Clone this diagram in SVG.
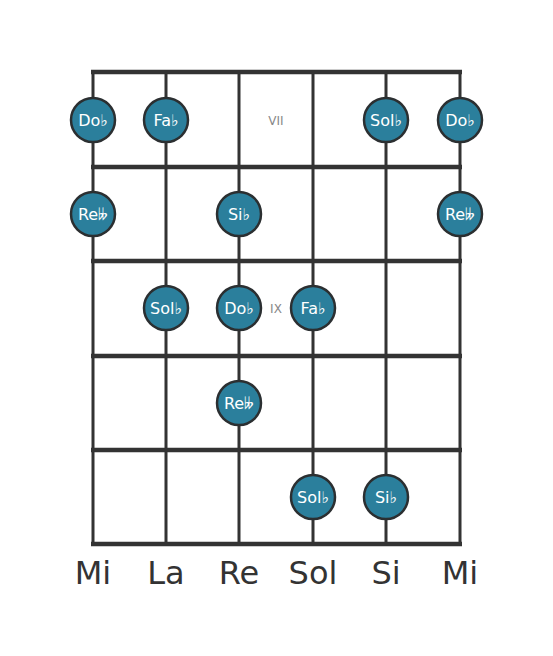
<svg xmlns="http://www.w3.org/2000/svg" width="553" height="656" viewBox="0 0 553 656">
<style>
.str{stroke:#333;stroke-width:3}
.fret{stroke:#333;stroke-width:4.5}
.dot circle{fill:#2b7f9c;stroke:#2b2f31;stroke-width:2.5}
.dot text{fill:#fff;font-family:"DejaVu Sans",sans-serif;font-size:16px;text-anchor:middle;dominant-baseline:central}
.fn{fill:#888;font-family:"DejaVu Sans",sans-serif;font-size:12px;text-anchor:middle;dominant-baseline:central}
.lbl{fill:#333;font-family:"DejaVu Sans",sans-serif;font-size:32px;text-anchor:middle}
</style>
<rect width="553" height="656" fill="#fff"/>
<g id="connectors">
<line class="str" x1="93" y1="72" x2="93" y2="544"/>
<line class="str" x1="166" y1="72" x2="166" y2="544"/>
<line class="str" x1="239" y1="72" x2="239" y2="544"/>
<line class="str" x1="313" y1="72" x2="313" y2="544"/>
<line class="str" x1="386" y1="72" x2="386" y2="544"/>
<line class="str" x1="460" y1="72" x2="460" y2="544"/>
<line class="fret" x1="91" y1="72" x2="462" y2="72"/>
<line class="fret" x1="91" y1="167" x2="462" y2="167"/>
<line class="fret" x1="91" y1="261" x2="462" y2="261"/>
<line class="fret" x1="91" y1="356" x2="462" y2="356"/>
<line class="fret" x1="91" y1="450" x2="462" y2="450"/>
<line class="fret" x1="91" y1="544" x2="462" y2="544"/>
</g>
<text class="fn" x="276" y="121">VII</text>
<text class="fn" x="276" y="309">IX</text>
<g id="n1" class="dot"><circle cx="93" cy="120" r="22"/><text x="93" y="120">Do♭</text></g>
<g id="n2" class="dot"><circle cx="166" cy="120" r="22"/><text x="166" y="120">Fa♭</text></g>
<g id="n3" class="dot"><circle cx="386" cy="120" r="22"/><text x="386" y="120">Sol♭</text></g>
<g id="n4" class="dot"><circle cx="460" cy="120" r="22"/><text x="460" y="120">Do♭</text></g>
<g id="n5" class="dot"><circle cx="93" cy="214" r="22"/><text x="93" y="214">Re𝄫</text></g>
<g id="n6" class="dot"><circle cx="239" cy="214" r="22"/><text x="239" y="214">Si♭</text></g>
<g id="n7" class="dot"><circle cx="460" cy="214" r="22"/><text x="460" y="214">Re𝄫</text></g>
<g id="n8" class="dot"><circle cx="166" cy="308" r="22"/><text x="166" y="308">Sol♭</text></g>
<g id="n9" class="dot"><circle cx="239" cy="308" r="22"/><text x="239" y="308">Do♭</text></g>
<g id="n10" class="dot"><circle cx="313" cy="308" r="22"/><text x="313" y="308">Fa♭</text></g>
<g id="n11" class="dot"><circle cx="239" cy="403" r="22"/><text x="239" y="403">Re𝄫</text></g>
<g id="n12" class="dot"><circle cx="313" cy="497" r="22"/><text x="313" y="497">Sol♭</text></g>
<g id="n13" class="dot"><circle cx="386" cy="497" r="22"/><text x="386" y="497">Si♭</text></g>
<g id="labels">
<text class="lbl" x="93" y="584">Mi</text>
<text class="lbl" x="166" y="584">La</text>
<text class="lbl" x="239" y="584">Re</text>
<text class="lbl" x="313" y="584">Sol</text>
<text class="lbl" x="386" y="584">Si</text>
<text class="lbl" x="460" y="584">Mi</text>
</g>
</svg>
